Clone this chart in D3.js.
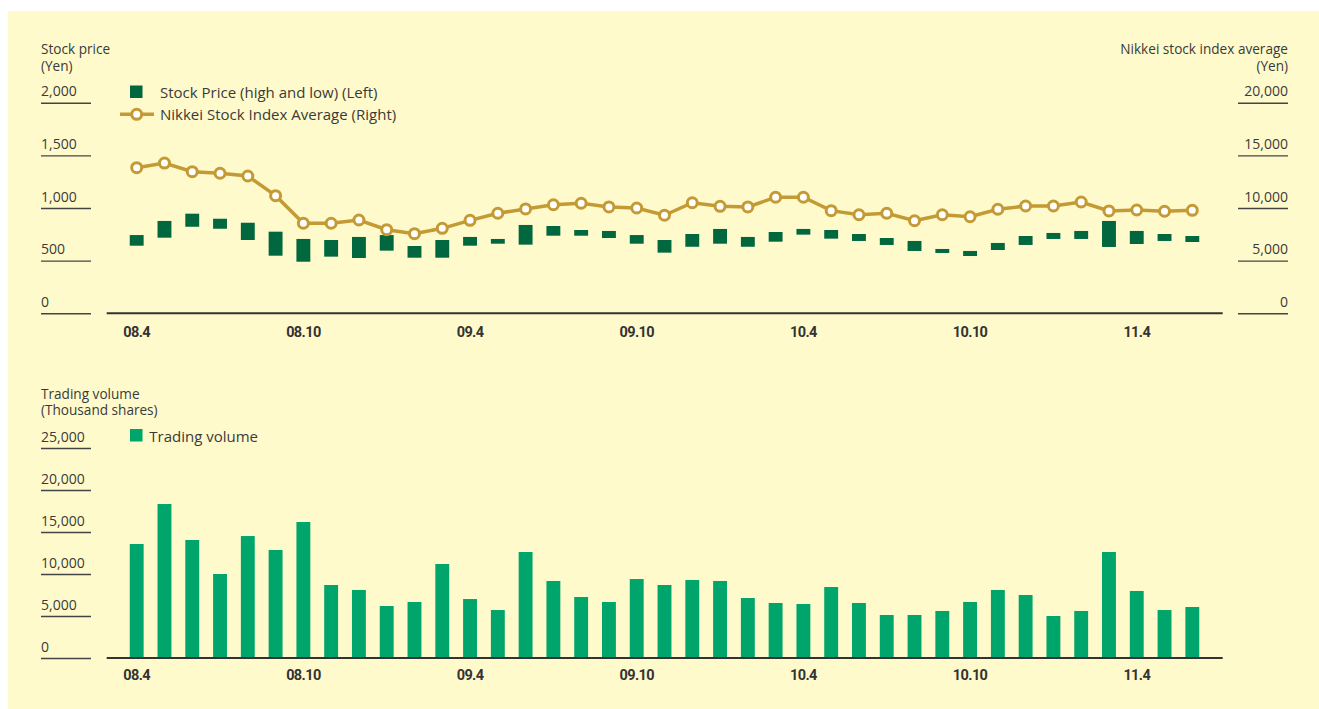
<!DOCTYPE html>
<html>
<head>
<meta charset="utf-8">
<script src="https://cdn.jsdelivr.net/npm/d3@7"></script>
<style>
  body { margin: 0; background: #fff; }
  text { font-family: "Open Sans", "Noto Sans", sans-serif; fill: #3a3a3a; }
  .xlab text { font-family: Roboto, sans-serif; font-weight: bold; font-size: 14.5px; fill: #333; letter-spacing: -0.6px; }
</style>
</head>
<body>
<div id="chart"></div>
<script>
// months on the x axis
var months = ["08.4","08.5","08.6","08.7","08.8","08.9","08.10","08.11","08.12",
  "09.1","09.2","09.3","09.4","09.5","09.6","09.7","09.8","09.9","09.10","09.11","09.12",
  "10.1","10.2","10.3","10.4","10.5","10.6","10.7","10.8","10.9","10.10","10.11","10.12",
  "11.1","11.2","11.3","11.4","11.5","11.6"];
var monthTicks = ["08.4","08.10","09.4","09.10","10.4","10.10","11.4"];

// stock price high / low (yen, left axis)
var priceHigh = [743,877,946,898,860,775,706,696,725,743,639,696,725,706,839,829,791,782,743,696,
  753,801,725,772,801,791,753,715,687,611,592,668,734,763,782,877,782,753,734];
var priceLow = [642,718,822,803,696,547,490,538,525,595,528,528,642,661,652,737,737,715,661,576,
  632,661,632,680,747,709,687,649,592,573,544,601,649,706,706,630,658,687,677];
// nikkei average (yen, right axis)
var nikkei = [13830,14270,13450,13300,13040,11170,8550,8550,8860,7940,7560,8070,8830,9500,9910,
  10310,10450,10100,10000,9310,10500,10160,10100,11020,11020,9750,9360,9500,8790,9360,9170,
  9880,10190,10190,10570,9720,9810,9690,9780];
// trading volume (thousand shares)
var volume = [13570,18330,14050,10000,14520,12860,16190,8690,8100,6190,6670,11190,7020,5710,12620,
  9170,7260,6670,9400,8690,9290,9170,7140,6550,6430,8450,6550,5120,5120,5600,6670,8100,7500,
  5000,5600,12620,7980,5710,6070];

var priceTicks = [0, 500, 1000, 1500, 2000];
var nikkeiTicks = [0, 5000, 10000, 15000, 20000];
var volumeTicks = [0, 5000, 10000, 15000, 20000, 25000];

var width = 1319, height = 709,
  darkGreen = "#00673f", lightGreen = "#00a56b", gold = "#c49a35", bg = "#fffacb";

var svg = d3.select("#chart").append("svg")
  .attr("width", width).attr("height", height);

svg.append("rect").attr("x", 8).attr("y", 11)
  .attr("width", width - 8).attr("height", height - 11).attr("fill", bg);

var x = d3.scaleBand().domain(months).range([122.8, 1206.2])
  .paddingInner(0.5).paddingOuter(0.25);
var cx = function (d) { return x(d) + x.bandwidth() / 2; };

var yPrice = d3.scaleLinear().domain([0, 2000]).range([313.3, 102.7]);
var yNikkei = d3.scaleLinear().domain([0, 20000]).range([313.3, 102.7]);
var yVol = d3.scaleLinear().domain([0, 25000]).range([658, 448]);
var fmt = d3.format(",");

// y axes: short rules with the label sitting on top
function leftAxis(scale, ticks) {
  var g = svg.append("g").attr("transform", "translate(41,0)")
    .call(d3.axisRight(scale).tickValues(ticks).tickSize(50).tickFormat(fmt));
  g.select(".domain").remove();
  g.selectAll("line").attr("stroke", "#444").attr("stroke-width", 1.4);
  g.selectAll("text").attr("x", 0).attr("dy", -7).attr("text-anchor", "start")
    .attr("font-size", 14).attr("fill", "#3a3a3a");
}
function rightAxis(scale, ticks) {
  var g = svg.append("g").attr("transform", "translate(1288,0)")
    .call(d3.axisLeft(scale).tickValues(ticks).tickSize(50).tickFormat(fmt));
  g.select(".domain").remove();
  g.selectAll("line").attr("stroke", "#444").attr("stroke-width", 1.4);
  g.selectAll("text").attr("x", 0).attr("dy", -7).attr("text-anchor", "end")
    .attr("font-size", 14).attr("fill", "#3a3a3a");
}
function xAxis(y0, pad) {
  svg.append("line").attr("x1", 106.7).attr("x2", 1222.7)
    .attr("y1", y0).attr("y2", y0).attr("stroke", "#333").attr("stroke-width", 2);
  var g = svg.append("g").attr("class", "xlab").attr("transform", "translate(0," + y0 + ")")
    .call(d3.axisBottom(x).tickValues(monthTicks).tickSize(0).tickPadding(pad));
  g.select(".domain").remove();
}

leftAxis(yPrice, priceTicks);
rightAxis(yNikkei, nikkeiTicks);
leftAxis(yVol, volumeTicks);

// titles
function title(xp, yp, anchor, txt) {
  svg.append("text").attr("x", xp).attr("y", yp).attr("font-size", 13.6)
    .attr("text-anchor", anchor).text(txt);
}
title(41, 54, "start", "Stock price");
title(41, 70.5, "start", "(Yen)");
title(1288, 54, "end", "Nikkei stock index average");
title(1288, 70.5, "end", "(Yen)");
title(41, 398.5, "start", "Trading volume");
title(41, 415, "start", "(Thousand shares)");

// high-low bars
var hl = months.map(function (m, i) { return { m: m, hi: priceHigh[i], lo: priceLow[i] }; });
svg.append("g").selectAll("rect").data(hl).enter().append("rect")
  .attr("x", function (d) { return x(d.m); })
  .attr("width", x.bandwidth())
  .attr("y", function (d) { return yPrice(d.hi); })
  .attr("height", function (d) { return yPrice(d.lo) - yPrice(d.hi); })
  .attr("fill", darkGreen);

// nikkei line
var nk = months.map(function (m, i) { return { m: m, v: nikkei[i] }; });
var line = d3.line().x(function (d) { return cx(d.m); }).y(function (d) { return yNikkei(d.v); });
svg.append("path").datum(nk).attr("d", line)
  .attr("fill", "none").attr("stroke", gold).attr("stroke-width", 3.5);
svg.append("g").selectAll("circle").data(nk).enter().append("circle")
  .attr("cx", function (d) { return cx(d.m); })
  .attr("cy", function (d) { return yNikkei(d.v); })
  .attr("r", 5).attr("fill", "#fff").attr("stroke", gold).attr("stroke-width", 3);

xAxis(313.3, 13);

// volume bars
var vol = months.map(function (m, i) { return { m: m, v: volume[i] }; });
svg.append("g").selectAll("rect").data(vol).enter().append("rect")
  .attr("x", function (d) { return x(d.m); })
  .attr("width", x.bandwidth())
  .attr("y", function (d) { return yVol(d.v); })
  .attr("height", function (d) { return yVol(0) - yVol(d.v); })
  .attr("fill", lightGreen);

xAxis(658, 12);

// legends
svg.append("rect").attr("x", 130).attr("y", 85.5).attr("width", 12.5).attr("height", 12.5).attr("fill", darkGreen);
svg.append("text").attr("x", 160).attr("y", 97.5).attr("font-size", 15).text("Stock Price (high and low) (Left)");
svg.append("line").attr("x1", 120).attr("x2", 154).attr("y1", 114.3).attr("y2", 114.3)
  .attr("stroke", gold).attr("stroke-width", 3.5);
svg.append("circle").attr("cx", 136.7).attr("cy", 114.3).attr("r", 5)
  .attr("fill", "#fff").attr("stroke", gold).attr("stroke-width", 3);
svg.append("text").attr("x", 160).attr("y", 119.5).attr("font-size", 15).text("Nikkei Stock Index Average (Right)");
svg.append("rect").attr("x", 130).attr("y", 429).attr("width", 12.5).attr("height", 12.5).attr("fill", lightGreen);
svg.append("text").attr("x", 149.3).attr("y", 441.5).attr("font-size", 15).text("Trading volume");
</script>
</body>
</html>
